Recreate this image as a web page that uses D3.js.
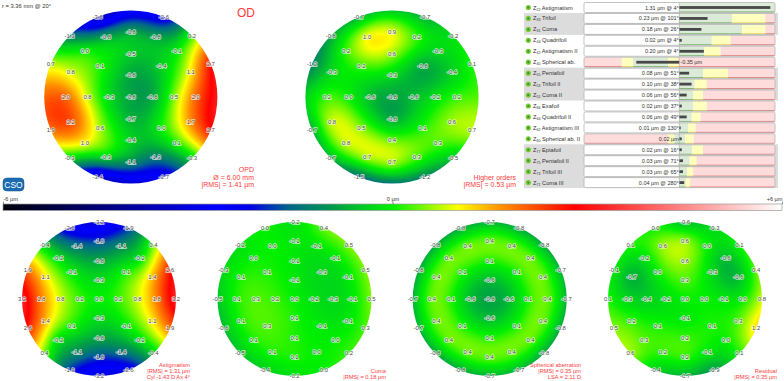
<!DOCTYPE html>
<html><head><meta charset="utf-8">
<script src="https://cdnjs.cloudflare.com/ajax/libs/d3/7.8.5/d3.min.js"></script>
<style>html,body{margin:0;padding:0;background:#fff;overflow:hidden}svg{display:block;font-family:"Liberation Sans",Arial,sans-serif}</style>
</head><body><svg id="c" width="784" height="381"></svg>
<script>
// Wavefront samples (µm): centre, then rings clockwise from 12 o'clock
const opdRings = [[-0.8],
 [-0.8,-0.8,-0.7,-0.3],
 [-0.5,-0.4,0.5,0.0,-0.4,0.6,0.8,0.1],
 [-0.8,-0.8,-0.1,1.1,2.0,1.7,0.1,-1.3,-1.1,-0.3,1.0,2.2,2.0,0.8,0.0,-0.8],
 [-2.9,-2.6,0.2,2.7,3.1,2.7,-0.3,-2.7,-3.3,-3.4,-0.3,1.9,2.0,0.7,-1.3,-3.6]];
const higherRings = [[-0.8],
 [-0.3,-0.6,-0.8,-0.6],
 [0.6,-0.8,-0.2,0.1,0.4,0.5,0.0,0.2],
 [0.9,0.2,-0.3,-0.4,0.2,0.6,0.3,0.3,0.7,0.7,0.8,0.8,0.2,-0.3,0.2,1.0],
 [-0.5,-0.7,-0.2,0.1,0.3,0.7,-0.5,-1.2,-1.4,-1.5,-0.7,-0.7,-0.4,-1.2,-0.8,-0.7]];
const astigRings = [[0.0],
 [-0.3,0.2,-0.3,0.2],
 [-0.8,0.1,0.8,-0.1,-0.8,0.1,0.8,-0.1],
 [-1.8,-1.1,-0.2,1.4,1.8,1.1,-0.2,-1.4,-1.8,-1.1,-0.2,1.4,1.8,1.1,-0.2,-1.4],
 [-3.2,-1.9,0.4,2.6,3.2,1.9,-0.4,-2.6,-3.2,-1.9,0.4,2.6,3.2,1.9,-0.4,-2.6]];
const comaRings = [[0.0],
 [-0.1,-0.2,0.1,0.2],
 [-0.1,-0.3,-0.3,-0.1,0.1,0.3,0.3,0.1],
 [-0.1,-0.1,-0.1,-0.1,-0.1,-0.1,0.0,0.0,0.1,0.1,0.1,0.1,0.1,0.1,0.0,0.0],
 [-0.2,0.4,0.5,0.5,0.5,0.3,0.2,0.0,-0.2,-0.4,-0.5,-0.6,-0.5,-0.3,-0.2,0.0]];
const sphericalRings = [[-0.8],
 [-0.6,-0.6,-0.6,-0.6],
 [0.1,0.1,0.1,0.1,0.1,0.1,0.1,0.1],
 [0.4,0.4,0.4,0.4,0.4,0.4,0.4,0.4,0.4,0.4,0.4,0.4,0.4,0.4,0.4,0.4],
 [-0.7,-0.8,-0.8,-0.7,-0.7,-0.8,-0.8,-0.7,-0.7,-0.8,-0.8,-0.7,-0.7,-0.8,-0.8,-0.8]];
const residualRings = [[0.0],
 [0.3,0.0,-0.1,-0.2],
 [0.6,-0.3,-0.1,0.1,0.2,0.1,-0.4,0.0],
 [0.6,0.0,-0.6,-0.6,0.0,0.3,0.0,-0.1,0.2,0.2,0.3,0.2,-0.3,-0.7,-0.2,0.6],
 [-0.6,-0.3,0.1,0.4,0.8,1.2,0.1,-0.9,-0.7,-0.4,0.6,0.5,0.1,-0.1,0.1,0.0]];

// Colour bar
const colorStops = [-6,-2.7,-2.2,-1.6,-0.9,-0.4,0,1,1.7,2.8,6];
const colorValues = ["#000008","#0000ff","#0000e6","#00658c","#009c48","#00d020","#00f000","#ffff00","#ff8c00","#ff0000","#ffffff"];
const barTicks = [-6,0,6];
const barTickLabels = ["-6 µm","0 µm","+6 µm"];

// Zernike table
const zNames = ["Astigmatism","Trifoil","Coma","Quadrifoil","Astigmatism II","Spherical ab.","Pentafoil","Trifoil II","Coma II","Exafoil","Quadrifoil II","Astigmatism III","Spherical ab. II","Eptafoil","Pentafoil II","Trifoil III","Coma III"];
const zIndex = ["22","33","31","44","42","40","55","53","51","66","64","62","60","77","75","73","71"];
const zText = ["1.31 µm @ 4°","0.23 µm @ 101°","0.18 µm @ 26°","0.02 µm @ 4°","0.20 µm @ 4°","-0.35 µm","0.08 µm @ 51°","0.10 µm @ 38°","0.06 µm @ 56°","0.02 µm @ 37°","0.06 µm @ 49°","0.01 µm @ 130°","0.02 µm","0.02 µm @ 16°","0.03 µm @ 71°","0.03 µm @ 65°","0.04 µm @ 280°"];
const zValue = [1.31,0.23,0.18,0.02,0.20,-0.35,0.08,0.10,0.06,0.02,0.06,0.01,0.02,0.02,0.03,0.03,0.04];
const zGreenEnd = [1.6,0.42,0.50,0.26,0.20,-0.09,0.19,0.12,0.11,0.11,0.10,0.07,0.045,0.10,0.08,0.06,0.05];
const zYellowEnd = [1.6,0.69,0.69,0.41,0.33,0,0.39,0.22,0.19,0.22,0.17,0.13,0.115,0.19,0.14,0.11,0.09];
const zGreenStart = [0,0,0,0,0,-0.37,0,0,0,0,0,0,-0.04,0,0,0,0];
const zYellowStart = [0,0,0,0,0,-0.46,0,0,0,0,0,0,-0.09,0,0,0,0];

// Layout
const svg = d3.select("#c");
const RED = "#ff3b3b";
const mapLayout = [
 {data:opdRings, cx:130.8, cy:97, R:86.6, hideCardinal:true},
 {data:higherRings, cx:392, cy:97, R:86.6, hideCardinal:true},
 {data:astigRings, cx:99, cy:299, R:77},
 {data:comaRings, cx:294.5, cy:299, R:77},
 {data:sphericalRings, cx:489.7, cy:299, R:77},
 {data:residualRings, cx:685, cy:299, R:77}
];
const captions = [
 {x:254, lines:[["OPD",171.5],["Ø = 6.00 mm",179.5],["|RMS| = 1.41 µm",187]], size:7},
 {x:516, lines:[["Higher orders",179.5],["|RMS| = 0.53 µm",187]], size:7},
 {x:190, lines:[["Astigmatism",367],["|RMS| = 1.31 µm",373],["Cyl -1.43 D Ax 4°",379]], size:5.7},
 {x:386, lines:[["Coma",373],["|RMS| = 0.18 µm",379]], size:5.7},
 {x:581, lines:[["Spherical aberration",367],["|RMS| = 0.35 µm",373],["LSA = 2.11 D",379]], size:5.7},
 {x:777, lines:[["Residual",373],["|RMS| = 0.35 µm",379]], size:5.7}
];

const color = d3.scaleLinear().domain(colorStops).range(colorValues).clamp(true);

// polar sample positions in unit disc
function samples(rings){
  const pts=[];
  rings.forEach((ring,ri)=>{
    const rad=ri/4;
    ring.forEach((v,i)=>{
      const a=i/ring.length*2*Math.PI;
      pts.push({x:rad*Math.sin(a),y:-rad*Math.cos(a),v,ri,i,n:ring.length});
    });
  });
  return pts;
}
// lightly smoothed thin-plate surface through the rounded samples
function tps(pts,lambda){
  const n=pts.length, N=n+3, A=[];
  const U=r2=>r2<1e-12?0:r2*Math.log(r2)*0.5;
  for(let i=0;i<N;i++){A.push(new Float64Array(N+1));}
  for(let i=0;i<n;i++){
    for(let j=0;j<n;j++){const dx=pts[i].x-pts[j].x,dy=pts[i].y-pts[j].y;A[i][j]=U(dx*dx+dy*dy);}
    A[i][i]=lambda;
    A[i][n]=1;A[i][n+1]=pts[i].x;A[i][n+2]=pts[i].y;
    A[n][i]=1;A[n+1][i]=pts[i].x;A[n+2][i]=pts[i].y;
    A[i][N]=pts[i].v;
  }
  for(let c=0;c<N;c++){
    let p=c;for(let r=c+1;r<N;r++)if(Math.abs(A[r][c])>Math.abs(A[p][c]))p=r;
    [A[c],A[p]]=[A[p],A[c]];
    for(let r=0;r<N;r++){if(r===c)continue;const f=A[r][c]/A[c][c];if(f===0)continue;for(let k=c;k<=N;k++)A[r][k]-=f*A[c][k];}
  }
  const w=A.map((row,i)=>row[N]/row[i]);
  return (x,y)=>{
    let s=w[n]+w[n+1]*x+w[n+2]*y;
    for(let i=0;i<n;i++){const dx=x-pts[i].x,dy=y-pts[i].y;s+=w[i]*U(dx*dx+dy*dy);}
    return s;
  };
}

const defs=svg.append("defs");
mapLayout.forEach((m,idx)=>{
  const pts=samples(m.data), f=tps(pts,0.006);
  const size=Math.ceil(m.R*2)+2;
  const X=d3.scaleLinear().domain([-1,1]).range([m.cx-m.R,m.cx+m.R]);
  const Y=d3.scaleLinear().domain([-1,1]).range([m.cy-m.R,m.cy+m.R]);
  const cv=document.createElement("canvas");cv.width=size;cv.height=size;
  const ctx=cv.getContext("2d"), im=ctx.createImageData(size,size);
  const x0=Math.floor(m.cx-m.R), y0=Math.floor(m.cy-m.R);
  for(let j=0;j<size;j++)for(let i=0;i<size;i++){
    const u=X.invert(x0+i+0.5), v=Y.invert(y0+j+0.5);
    if(u*u+v*v>1.06)continue;
    const c=d3.color(color(f(u,v)));const o=(j*size+i)*4;
    im.data[o]=c.r;im.data[o+1]=c.g;im.data[o+2]=c.b;im.data[o+3]=255;
  }
  ctx.putImageData(im,0,0);
  defs.append("clipPath").attr("id","clip"+idx).append("circle").attr("cx",m.cx).attr("cy",m.cy).attr("r",m.R);
  svg.append("image").attr("href",cv.toDataURL()).attr("x",x0).attr("y",y0).attr("width",size).attr("height",size).attr("clip-path",`url(#clip${idx})`);
  const shown=pts.filter(p=>!(m.hideCardinal&&p.ri===4&&p.i%4===0));
  svg.append("g").selectAll("text").data(shown).join("text")
    .attr("x",p=>X(p.x)).attr("y",p=>Y(p.y)+2)
    .attr("text-anchor","middle").attr("font-size",5.9)
    .attr("fill","#4a4a4a")
    .attr("stroke","#fff").attr("stroke-opacity",0.75).attr("stroke-width",1.4).attr("paint-order","stroke")
    .text(p=>p.v.toFixed(1));
});

captions.forEach(c=>{
  svg.append("g").selectAll("text").data(c.lines).join("text")
    .attr("x",c.x).attr("y",d=>d[1]).attr("text-anchor","end").attr("font-size",c.size).attr("fill",RED).text(d=>d[0]);
});
svg.append("text").attr("x",237).attr("y",17).attr("font-size",12).attr("fill",RED).text("OD");
svg.append("text").attr("x",2).attr("y",7.5).attr("font-size",5.8).attr("fill","#333").text("r = 3.36 mm @ 20°");

// logo
const logo=svg.append("g");
logo.append("rect").attr("x",3).attr("y",178).attr("width",21).attr("height",13).attr("rx",4).attr("fill","#1b6cb0").attr("stroke","#0d4f8f").attr("stroke-width",0.5);
logo.append("text").attr("x",13.5).attr("y",187.8).attr("text-anchor","middle").attr("font-size",8.5).attr("fill","#fff").text("CSO");

// colour bar
const barX=d3.scaleLinear().domain([-6,6]).range([3,782]);
const grad=defs.append("linearGradient").attr("id","bar");
colorStops.forEach((s,i)=>grad.append("stop").attr("offset",((s+6)/12*100)+"%").attr("stop-color",colorValues[i]));
svg.append("rect").attr("x",3).attr("y",204).attr("width",779).attr("height",6.5).attr("fill","url(#bar)").attr("stroke","#9a9a9a").attr("stroke-width",0.7);
const ax=svg.append("g").attr("transform","translate(0,204)")
  .call(d3.axisTop(barX).tickValues(barTicks).tickSize(2.5).tickFormat((d,i)=>barTickLabels[i]));
ax.select(".domain").remove();
ax.selectAll(".tick line").attr("stroke","#444").attr("stroke-width",0.6);
ax.selectAll(".tick text").attr("font-family","inherit").attr("font-size",5.6).attr("fill","#333").attr("dy",0)
  .attr("y",-3).attr("text-anchor",(d,i)=>i===0?"start":i===2?"end":"middle");

// Zernike table
const rowY=d3.scaleLinear().domain([0,16]).range([7.5,182.6]);
const rowH=10;
const panelL=584,panelR=775;
const zeroX=679.3;
const zw=d3.scaleLinear().domain([0,1.6]).range([0,200]);
const barLen=d3.scaleLinear().domain([0,0.35,1.31]).range([0,43,91]);
const bands=[[1,2],[6,8],[13,16]];
svg.append("g").selectAll("rect").data(bands).join("rect")
  .attr("x",524).attr("width",254)
  .attr("y",d=>rowY(d[0])-rowH/2-0.5).attr("height",d=>rowY(d[1])-rowY(d[0])+rowH+1)
  .attr("fill","#dcdcdc");
const zColors={g:"#dcebd8",y:"#ffffbe",r:"#ffdcdc"}, zLines={g:"#62b356",y:"#efd24a",r:"#ef6a6a"};
const rows=svg.append("g").selectAll("g").data(zNames).join("g");
rows.each(function(name,i){
  const g=d3.select(this), y=rowY(i), top=y-rowH/2, signed=zGreenStart[i]!==0;
  const clipId="row"+i;
  defs.append("clipPath").attr("id",clipId).append("rect").attr("x",panelL).attr("y",top).attr("width",panelR-panelL).attr("height",rowH).attr("rx",1.5);
  const inner=g.append("g").attr("clip-path",`url(#${clipId})`);
  const xOf=v=>v<0?zeroX-zw(-v):Math.min(panelR,zeroX+zw(v));
  const segs=[];
  if(signed){
    segs.push([panelL,xOf(zYellowStart[i]),"r"],[xOf(zYellowStart[i]),xOf(zGreenStart[i]),"y"],[xOf(zGreenStart[i]),xOf(zGreenEnd[i]),"g"],[xOf(zGreenEnd[i]),xOf(zYellowEnd[i]),"y"],[xOf(zYellowEnd[i]),panelR,"r"]);
  } else {
    segs.push([panelL,zeroX,"w"],[zeroX,xOf(zGreenEnd[i]),"g"],[xOf(zGreenEnd[i]),xOf(zYellowEnd[i]),"y"],[xOf(zYellowEnd[i]),panelR,"r"]);
  }
  segs.forEach(s=>{
    if(s[1]<=s[0])return;
    inner.append("rect").attr("x",s[0]).attr("y",top).attr("width",s[1]-s[0]).attr("height",rowH).attr("fill",s[2]==="w"?"#fff":zColors[s[2]]);
    if(s[2]!=="w")inner.append("rect").attr("x",s[0]).attr("y",top+rowH-1).attr("width",s[1]-s[0]).attr("height",0.9).attr("fill",zLines[s[2]]);
  });
  const len=Math.max(1.4,barLen(Math.abs(zValue[i])));
  inner.append("rect").attr("x",zValue[i]<0?zeroX-len:zeroX).attr("y",y-1.4).attr("width",len).attr("height",2.8).attr("fill","#484848");
  g.append("rect").attr("x",panelL).attr("y",top).attr("width",panelR-panelL).attr("height",rowH).attr("rx",1.5).attr("fill","none").attr("stroke","#b4b4b4").attr("stroke-width",0.8);
  g.append("line").attr("x1",zeroX).attr("x2",zeroX).attr("y1",top).attr("y2",top+rowH).attr("stroke","#888").attr("stroke-width",0.4);
  const vt=g.append("text").attr("y",y+2).attr("font-size",5.5).attr("fill","#333").text(zText[i]);
  if(zValue[i]<0) vt.attr("x",zeroX+1); else vt.attr("x",zeroX-0.5).attr("text-anchor","end");
  g.append("circle").attr("cx",528.3).attr("cy",y).attr("r",2.6).attr("fill","#7fc92e");
  g.append("circle").attr("cx",528.3).attr("cy",y).attr("r",1.1).attr("fill","#1f9a46");
  const t=g.append("text").attr("x",533).attr("y",y+2).attr("font-size",5.7).attr("fill","#333");
  t.append("tspan").text("Z");
  t.append("tspan").attr("font-size",3.6).attr("dy",1).text(zIndex[i]);
  t.append("tspan").attr("dy",-1).text(" "+name);
});
</script></body></html>
